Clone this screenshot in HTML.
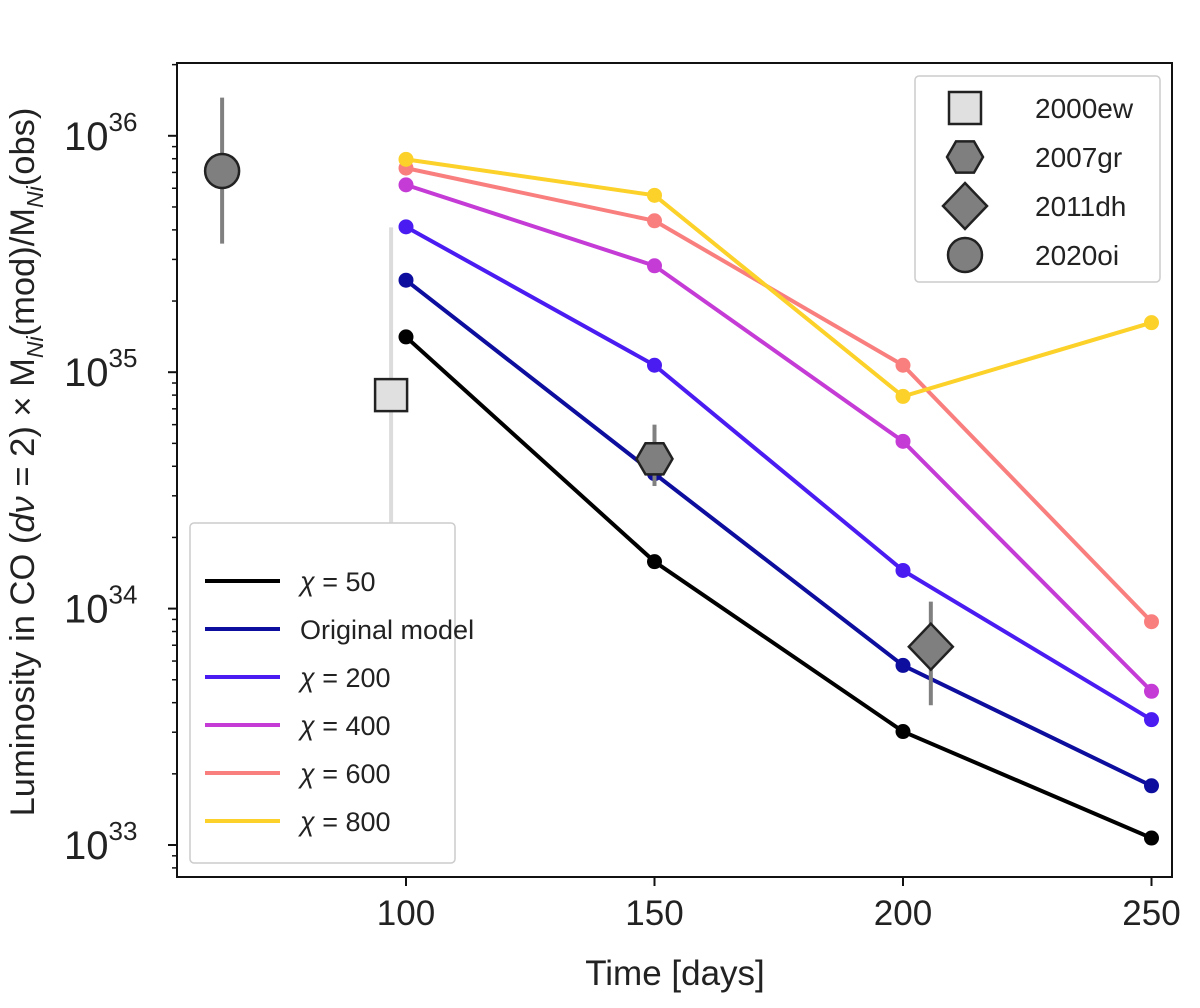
<!DOCTYPE html>
<html><head><meta charset="utf-8"><style>
body{margin:0;background:#fff;}
svg text{font-family:"Liberation Sans","DejaVu Sans",sans-serif;fill:#222;}
</style></head><body>
<svg id="chart" width="1200" height="1003" xmlns="http://www.w3.org/2000/svg">
<g id="grid"></g>
<g id="series"></g>
<g id="obs"></g>
<rect x="177" y="63" width="995" height="814" fill="none" stroke="#111" stroke-width="2"/>
<g id="axes"></g>
<text x="675" y="985" font-size="35" text-anchor="middle">Time [days]</text>
<text transform="translate(34,462) rotate(-90)" font-size="34.5" text-anchor="middle">Luminosity in CO (<tspan font-style="italic">dν</tspan> = 2) × M<tspan font-size="23" dy="9" font-style="italic">Ni</tspan><tspan dy="-9">(mod)/M</tspan><tspan font-size="23" dy="9" font-style="italic">Ni</tspan><tspan dy="-9">(obs)</tspan></text>
<g id="legend1"></g>
<g id="legend2"></g>
</svg>
<script>
const times=[100,150,200,250];
const seriesNames=["χ = 50","Original model","χ = 200","χ = 400","χ = 600","χ = 800"];
const seriesColors=["#000000","#0d0d9e","#4a1cf2","#c43bd6","#f97f7f","#fbd12a"];
const chi50=[1.41e35,1.58e34,3.02e33,1.07e33];
const original=[2.45e35,3.72e34,5.75e33,1.78e33];
const chi200=[4.12e35,1.07e35,1.45e34,3.39e33];
const chi400=[6.2e35,2.82e35,5.1e34,4.47e33];
const chi600=[7.3e35,4.37e35,1.07e35,8.8e33];
const chi800=[7.95e35,5.6e35,7.9e34,1.62e35];
const allSeries=[chi50,original,chi200,chi400,chi600,chi800];
const obsNames=["2000ew","2007gr","2011dh","2020oi"];
const obsT=[97,150,205.6,63];
const obsL=[8.0e34,4.3e34,6.9e33,7.1e35];
const obsLo=[1.6e34,3.3e34,3.9e33,3.5e35];
const obsHi=[4.1e35,6.0e34,1.07e34,1.45e36];
const xTicks=[100,150,200,250];
const yTickExps=[33,34,35,36];

const NS="http://www.w3.org/2000/svg";
function X(t){return 406+(t-100)*4.97;}
function Y(v){return 845-(Math.log10(v)-33)*236.4;}
function mk(tag,attrs,parent){const e=document.createElementNS(NS,tag);for(const k in attrs)e.setAttribute(k,attrs[k]);parent.appendChild(e);return e;}
const axes=document.getElementById('axes');
xTicks.forEach(t=>{
  const l=mk('line',{x1:X(t),x2:X(t),y1:877,y2:886,stroke:'#111','stroke-width':2},axes);
  
  
  const tx=mk('text',{x:X(t),y:925,'font-size':35,'text-anchor':'middle'},axes);
  tx.textContent=t;
  
  
});
for(let e=32;e<=36;e++){
  for(let m=1;m<10;m++){
    const v=m*Math.pow(10,e);const y=Y(v);
    if(y<63||y>877)continue;
    const l=mk('line',{x1:177,x2:m==1?168:172,y1:y,y2:y,stroke:'#111','stroke-width':m==1?2:1.5},axes);
    
    
  }
}
yTickExps.forEach(e=>{
  const tx=mk('text',{x:64,y:Y(Math.pow(10,e))+14,'font-size':40},axes);
  tx.textContent='10';
  const s=mk('tspan',{'font-size':26,dy:-19},tx);s.textContent=e;
  
  
});
const sg=document.getElementById('series');
allSeries.forEach((arr,i)=>{
  const p=mk('polyline',{points:arr.map((v,j)=>X(times[j])+','+Y(v)).join(' '),fill:'none',stroke:seriesColors[i],'stroke-width':4},sg);
  
  
  arr.forEach((v,j)=>{
    const c=mk('circle',{cx:X(times[j]),cy:Y(v),r:7.5,fill:seriesColors[i]},sg);
    
    
  });
});
const og=document.getElementById('obs');
function marker(k,cx,cy,g){
  let e;
  if(k==0) e=mk('rect',{x:cx-16,y:cy-16,width:32,height:32,fill:'#e0e0e0',stroke:'#222','stroke-width':2.5},g);
  else if(k==1){let pts=[];for(let a=0;a<6;a++){const an=Math.PI/3*a;pts.push((cx+18*Math.cos(an))+','+(cy+18*Math.sin(an)));}e=mk('polygon',{points:pts.join(' '),fill:'#7f7f7f',stroke:'#222','stroke-width':2.5},g);}
  else if(k==2) e=mk('polygon',{points:`${cx},${cy-23} ${cx+22},${cy} ${cx},${cy+23} ${cx-22},${cy}`,fill:'#7f7f7f',stroke:'#222','stroke-width':2.5},g);
  else e=mk('circle',{cx:cx,cy:cy,r:17,fill:'#7f7f7f',stroke:'#222','stroke-width':2.5},g);
  return e;
}
obsNames.forEach((n,k)=>{
  const x=X(obsT[k]);
  const eb=mk('line',{x1:x,x2:x,y1:Y(obsHi[k]),y2:Y(obsLo[k]),stroke:k==0?'#dcdcdc':'#808080','stroke-width':4},og);
  
  
  const m=marker(k,x,Y(obsL[k]),og);
  
  
});
const l1=document.getElementById('legend1');
const b1=mk('rect',{x:915,y:76,width:245,height:206,rx:4,fill:'#fff',stroke:'#ccc','stroke-width':1.5},l1);


obsNames.forEach((n,k)=>{
  const y=108+k*49;
  const m=marker(k,965,y,l1);
  
  
  const t=mk('text',{x:1035,y:y+10,'font-size':28},l1);t.textContent=n;
  
  
});
const l2=document.getElementById('legend2');
const b2=mk('rect',{x:190,y:523,width:265,height:340,rx:4,fill:'#fff',stroke:'#ccc','stroke-width':1.5},l2);


seriesNames.forEach((n,i)=>{
  const y=581+i*48;
  const l=mk('line',{x1:205,x2:280,y1:y,y2:y,stroke:seriesColors[i],'stroke-width':4},l2);
  
  
  const t=mk('text',{x:300,y:y+10,'font-size':27},l2);
  if(n.startsWith('χ')){const s=mk('tspan',{'font-style':'italic'},t);s.textContent='χ';const r=mk('tspan',{},t);r.textContent=' =  '+n.split('= ')[1];}
  else t.textContent=n;
  
  
});
</script>
</body></html>
